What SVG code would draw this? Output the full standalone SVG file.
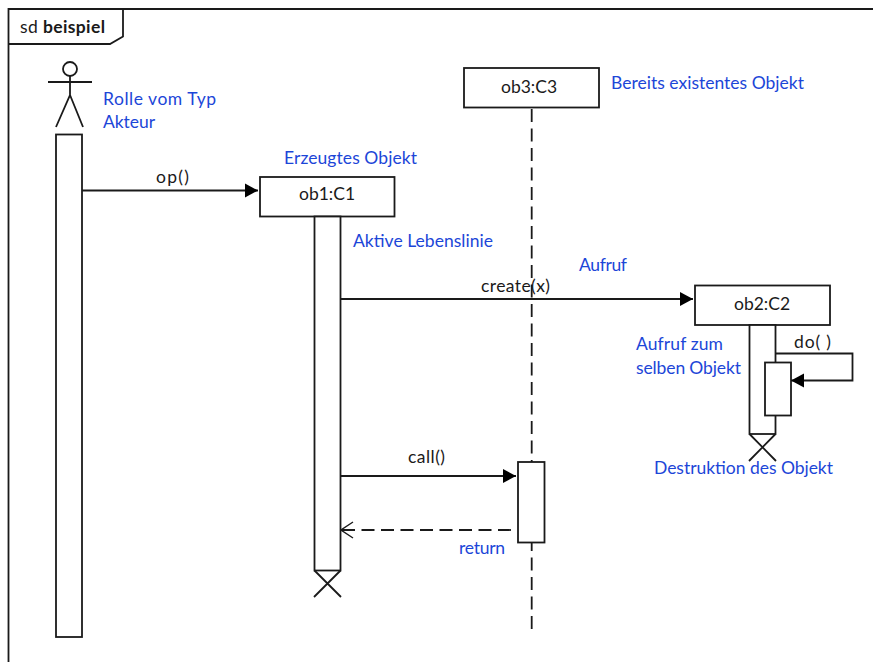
<svg xmlns="http://www.w3.org/2000/svg" width="873" height="662" viewBox="0 0 873 662">
<style>
text{font-family:"Lato","Liberation Sans",sans-serif;font-size:17.500px;fill:#1a1a1a}
.b{fill:#1c46d8}
.s{fill:none;stroke:#1a1a1a;stroke-width:1.800}
.r{fill:#fff;stroke:#1a1a1a;stroke-width:1.800}
.d{stroke-dasharray:13 6.5}
</style>
<defs>
<marker id="fa" markerUnits="userSpaceOnUse" markerWidth="14" markerHeight="16" refX="13" refY="8" orient="auto"><path d="M0 1L13 8L0 15Z" fill="#000"/></marker>
<marker id="oa" markerUnits="userSpaceOnUse" markerWidth="14" markerHeight="18" refX="13" refY="9" orient="auto"><path d="M1 1L13 9L1 17" fill="none" stroke="#1a1a1a" stroke-width="1.400"/></marker>
</defs>
<g id="frame">
<path class="s" d="M873 9H8.500V662"/>
<path class="s" d="M8.500 44H110L123 36.500V9"/>
<text x="20" y="33" textLength="85">sd <tspan font-weight="700">beispiel</tspan></text>
</g>
<g id="actor">
<circle class="s" cx="70" cy="69" r="7"/>
<path class="s" d="M48 82H92M70 76V95L56 127M70 95L83 127"/>
<rect class="r" x="56" y="134.500" width="26" height="502.500"/>
</g>
<g id="ob3">
<rect class="r" x="464" y="68" width="135" height="39.500"/>
<text x="529" y="93" text-anchor="middle">ob3:C3</text>
<path class="s d" d="M531.700 109V632"/>
<rect class="r" x="518" y="462" width="26.500" height="80.500"/>
</g>
<g id="ob1">
<rect class="r" x="260" y="177" width="134.500" height="39.500"/>
<text x="327" y="200" text-anchor="middle">ob1:C1</text>
<rect class="r" x="314.500" y="216.500" width="26" height="354"/>
<path class="s" d="M314.500 570.500L341 597M340.500 570.500L314 597"/>
</g>
<g id="ob2">
<rect class="r" x="695" y="285.500" width="135" height="39.500"/>
<text x="762" y="310" text-anchor="middle">ob2:C2</text>
<rect class="r" x="749.500" y="325" width="26" height="109"/>
<path class="s" d="M749.500 434L776 461M775.500 434L749 461"/>
<rect class="r" x="765" y="362.500" width="26" height="53"/>
</g>
<g id="connectors">
<path class="s" d="M82 190.500H258" marker-end="url(#fa)"/>
<path class="s" d="M341 299H693" marker-end="url(#fa)"/>
<path class="s" d="M776 353.500H852.500V380.500H791" marker-end="url(#fa)"/>
<path class="s" d="M341 476H516" marker-end="url(#fa)"/>
<path class="s d" d="M511 530H341" marker-end="url(#oa)"/>
</g>
<g id="labels">
<text x="156" y="183" textLength="33">op()</text>
<text x="481" y="292" textLength="69">create(x)</text>
<text x="794" y="348" textLength="37">do( )</text>
<text x="408" y="463" textLength="37">call()</text>
<text class="b" x="103" y="105" textLength="113">Rolle vom Typ</text>
<text class="b" x="103" y="128" textLength="52">Akteur</text>
<text class="b" x="284" y="164" textLength="133">Erzeugtes Objekt</text>
<text class="b" x="611" y="89" textLength="193">Bereits existentes Objekt</text>
<text class="b" x="353" y="247" textLength="140">Aktive Lebenslinie</text>
<text class="b" x="579" y="271" textLength="48">Aufruf</text>
<text class="b" x="636" y="350" textLength="87">Aufruf zum</text>
<text class="b" x="636" y="374" textLength="105">selben Objekt</text>
<text class="b" x="654" y="474" textLength="179">Destruktion des Objekt</text>
<text class="b" x="459" y="554" textLength="46">return</text>
</g>
</svg>
